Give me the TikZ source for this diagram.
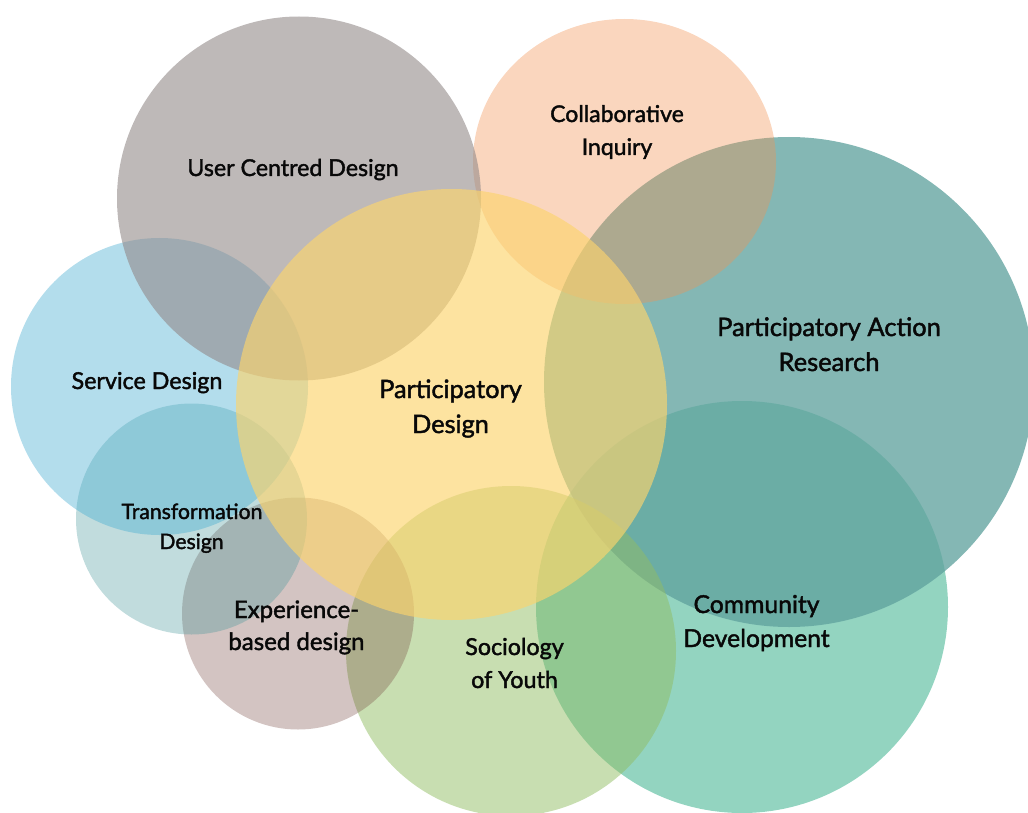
\documentclass[tikz,border=0pt]{standalone}
\usepackage{fontspec}
\setmainfont{Lato}[FakeBold=1.7]
\usetikzlibrary{shapes.geometric}
\definecolor{ucdC}{RGB}{147,138,137}
\definecolor{ciC}{RGB}{242,147,84}
\definecolor{parC}{RGB}{97,163,159}
\definecolor{pdC}{RGB}{252,212,109}
\definecolor{sdC}{RGB}{74,174,210}
\definecolor{tdC}{RGB}{67,149,152}
\definecolor{edC}{RGB}{117,71,64}
\definecolor{syC}{RGB}{145,189,99}
\definecolor{cdC}{RGB}{75,183,150}
\definecolor{ink}{RGB}{8,8,8}
\begin{document}
\begin{tikzpicture}[x=1pt,y=-1pt,
  bubble/.style={circle,draw=none,inner sep=0pt,minimum size=#1},
  lbl/.style={anchor=base,inner sep=0pt,text=ink,font=\fontsize{#1}{#1}\selectfont}]
\useasboundingbox (0,0) rectangle (1028,813);
\clip (0,0) rectangle (1028,813);
% circles, bottom to top
\node[bubble=412pt, fill=cdC, fill opacity=0.6] (cdc) at (742,607) {};
\node[bubble=490pt, fill=parC, fill opacity=0.78] (parc) at (789,382) {};
\node[ellipse,draw=none,inner sep=0pt,minimum width=303pt,minimum height=285pt, fill=ciC, fill opacity=0.38] (cic) at (624.5,161.5) {};
\node[bubble=330pt, fill=syC, fill opacity=0.5] (syc) at (511,651) {};
\node[bubble=232pt, fill=edC, fill opacity=0.32] (edc) at (298,613.5) {};
\node[bubble=231pt, fill=tdC, fill opacity=0.33] (tdc) at (191.5,519) {};
\node[bubble=297pt, fill=sdC, fill opacity=0.42] (sdc) at (159.5,386.5) {};
\node[bubble=364pt, fill=ucdC, fill opacity=0.6] (ucdc) at (299,198.5) {};
\node[bubble=431pt, fill=pdC, fill opacity=0.65] (pdc) at (451.5,404.5) {};
% labels
\node[lbl=23.2] (ucdA) at (293,176) {User Centred Design};
\node[lbl=23] (ciA) at (617,122) {Collaborative};
\node[lbl=23] (ciB) at (617,155) {Inquiry};
\node[lbl=25.5] (parA) at (829,336) {Participatory Action};
\node[lbl=25.5] (parB) at (829,371) {Research};
\node[lbl=25.3] (pdA) at (450.5,398) {Participatory};
\node[lbl=25.3] (pdB) at (450.5,433) {Design};
\node[lbl=23.3] (sdA) at (147,389) {Service Design};
\node[lbl=21.2] (tdA) at (192,519) {Transformation};
\node[lbl=21.2] (tdB) at (191.5,549) {Design};
\node[lbl=24] (edA) at (296.5,618) {Experience-};
\node[lbl=24] (edB) at (296.5,650) {based design};
\node[lbl=23.3] (syA) at (514.5,655) {Sociology};
\node[lbl=23.3] (syB) at (514.5,688) {of Youth};
\node[lbl=24.7] (cdA) at (756.5,613) {Community};
\node[lbl=24.7] (cdB) at (756.5,647) {Development};
\end{tikzpicture}
\end{document}
